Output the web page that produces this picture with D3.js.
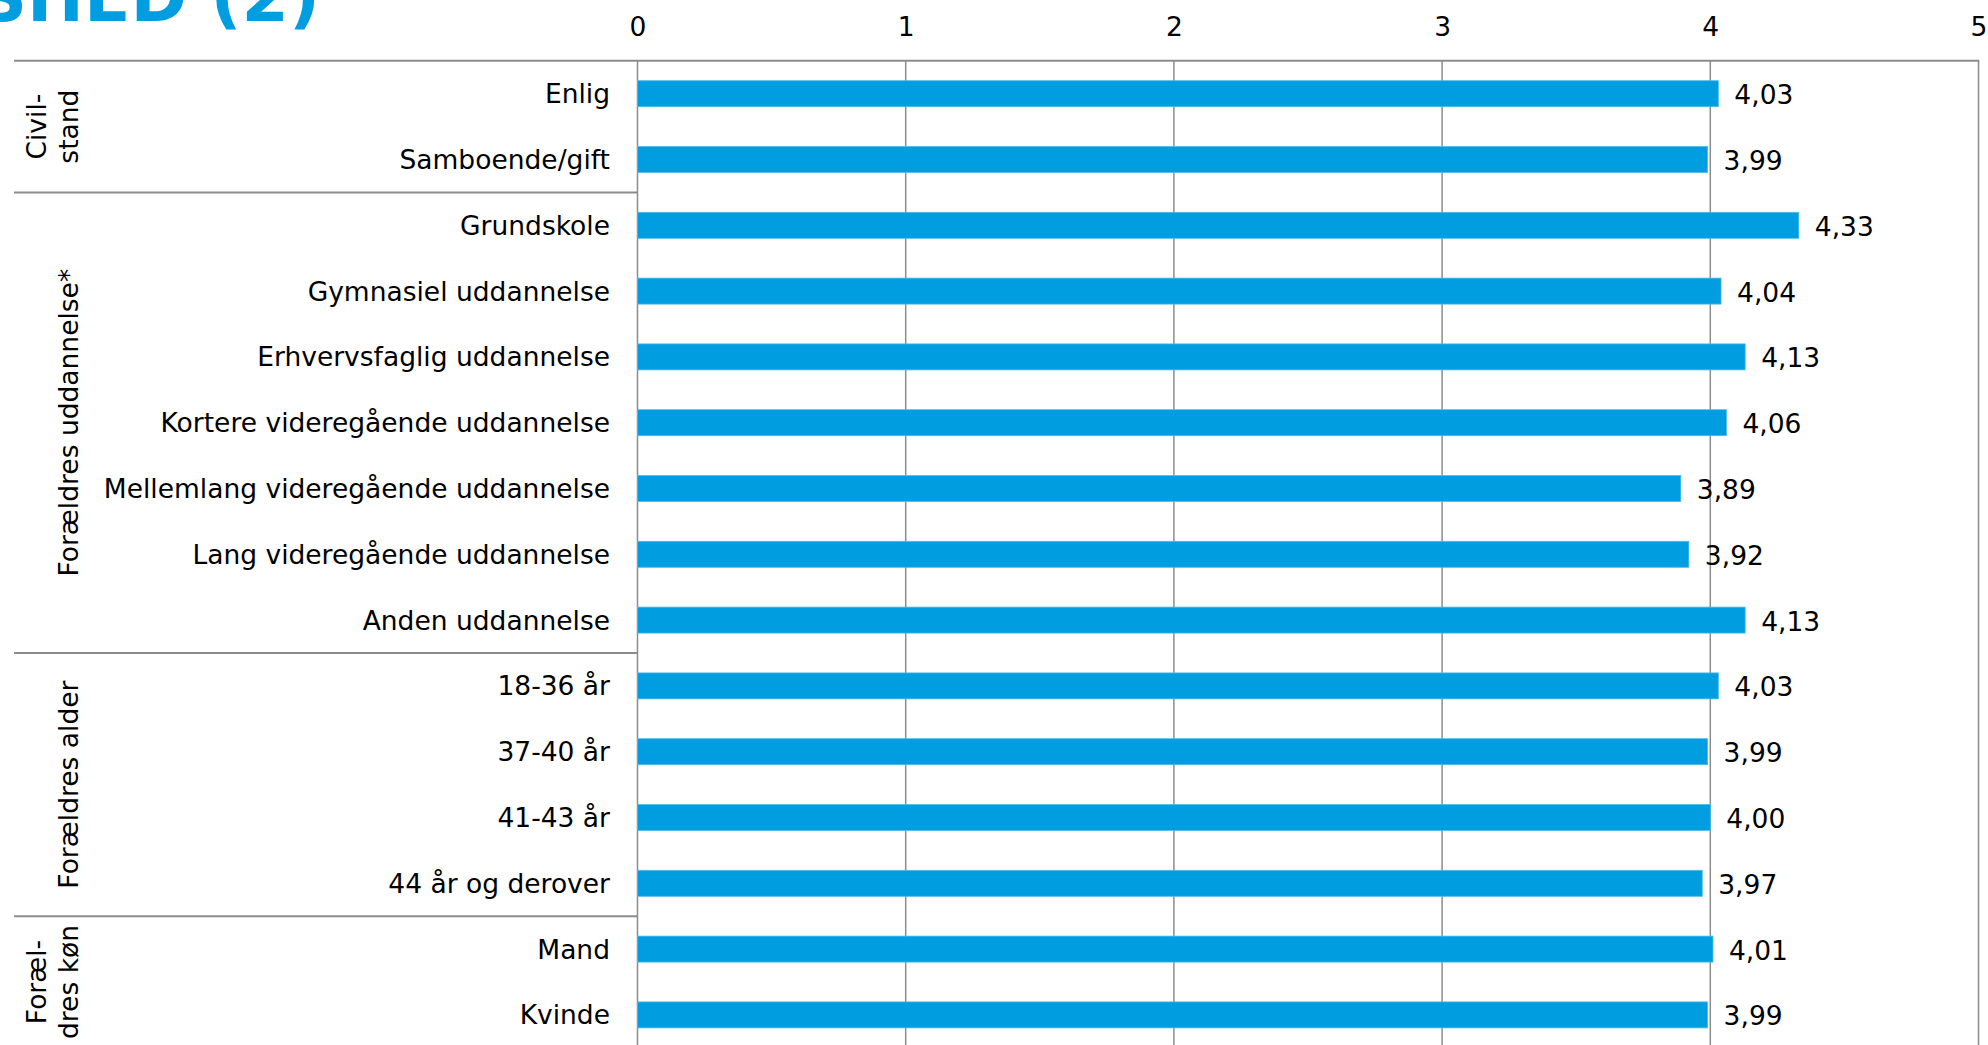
<!DOCTYPE html>
<html>
<head>
<meta charset="utf-8">
<script src="https://cdn.jsdelivr.net/npm/d3@7"></script>
<style>
  html, body { margin: 0; padding: 0; background: #fff; overflow: hidden; }
  svg { display: block; }
  text { font-family: "DejaVu Sans", Verdana, sans-serif; fill: #000; }
</style>
</head>
<body>
<svg id="chart" width="1988" height="1045"></svg>
<script>
// Mean scores by background group
const categories = [
  "Enlig", "Samboende/gift",
  "Grundskole", "Gymnasiel uddannelse", "Erhvervsfaglig uddannelse",
  "Kortere videregående uddannelse", "Mellemlang videregående uddannelse",
  "Lang videregående uddannelse", "Anden uddannelse",
  "18-36 år", "37-40 år", "41-43 år", "44 år og derover",
  "Mand", "Kvinde"
];
const values = [
  4.03, 3.99,
  4.33, 4.04, 4.13, 4.06, 3.89, 3.92, 4.13,
  4.03, 3.99, 4.00, 3.97,
  4.01, 3.99
];
// Groups: label lines and the first/last category of each
const groupLabels = [
  ["Civil-", "stand"],
  ["Forældres uddannelse*"],
  ["Forældres alder"],
  ["Foræl-", "dres køn"]
];
const groupFirst = ["Enlig", "Grundskole", "18-36 år", "Mand"];
const groupLast = ["Samboende/gift", "Anden uddannelse", "44 år og derover", "Kvinde"];
const tickValues = [0, 1, 2, 3, 4, 5];
const titleText = "SHED (2)";

const svg = d3.select("#chart");
const blue = "#009ee0";
const gridColor = "#8c8c8c";
const fontSize = 26.5;

const x = d3.scaleLinear().domain([0, 5]).range([637.5, 1978.5]);
const y = d3.scaleBand()
  .domain(categories)
  .range([60.8, 60.8 + 65.8 * categories.length])
  .paddingInner(0.605)
  .paddingOuter(0.3025);
const step = y.step();
const rowCenter = c => y(c) + y.bandwidth() / 2;
const plotTop = y.range()[0];
const plotBottom = y.range()[1];

// Title (slide heading, partly above the page)
svg.append("text")
  .attr("x", 320)
  .attr("y", 21)
  .attr("text-anchor", "end")
  .style("font-size", "68px")
  .style("font-weight", "bold")
  .style("fill", blue)
  .text(titleText);

// Tick labels via a top axis
const axis = d3.axisTop(x).tickValues(tickValues).tickSize(0).tickFormat(d3.format("d"));
const axisG = svg.append("g").attr("transform", `translate(0,${26 + fontSize * 0.36})`).call(axis);
axisG.select(".domain").remove();
axisG.selectAll("text")
  .attr("y", 0)
  .attr("dy", 0)
  .style("font-size", fontSize + "px")
  .style("font-family", '"DejaVu Sans", Verdana, sans-serif')
  .attr("fill", "#000");

// Vertical gridlines
svg.append("g").selectAll("line")
  .data(tickValues)
  .join("line")
  .attr("x1", d => x(d)).attr("x2", d => x(d))
  .attr("y1", plotTop).attr("y2", plotBottom)
  .attr("stroke", gridColor)
  .attr("stroke-width", 1.5);

// Top border across the table
svg.append("line")
  .attr("x1", 14).attr("x2", x(5) + 0.75)
  .attr("y1", plotTop).attr("y2", plotTop)
  .attr("stroke", gridColor)
  .attr("stroke-width", 2);

// Group separators in the label column
const separators = groupLast.slice(0, -1).map(c => y(c) + y.bandwidth() + (step - y.bandwidth()) / 2);
svg.append("g").selectAll("line")
  .data(separators)
  .join("line")
  .attr("x1", 14).attr("x2", x(0))
  .attr("y1", d => d).attr("y2", d => d)
  .attr("stroke", gridColor)
  .attr("stroke-width", 2);

// Bars
svg.append("g").selectAll("rect")
  .data(categories)
  .join("rect")
  .attr("x", x(0))
  .attr("y", c => y(c))
  .attr("width", (c, i) => x(values[i]) - x(0))
  .attr("height", y.bandwidth())
  .attr("fill", blue)
  .attr("stroke", "#4dbbea")
  .attr("stroke-width", 0.8);

// Value labels
const fmt = v => d3.format(".2f")(v).replace(".", ",");
svg.append("g").selectAll("text")
  .data(categories)
  .join("text")
  .attr("x", (c, i) => x(values[i]) + 16)
  .attr("y", c => rowCenter(c) + 1)
  .attr("dy", "0.36em")
  .style("font-size", fontSize + "px")
  .text((c, i) => fmt(values[i]));

// Category labels
svg.append("g").selectAll("text")
  .data(categories)
  .join("text")
  .attr("x", 610)
  .attr("y", c => rowCenter(c))
  .attr("dy", "0.36em")
  .attr("text-anchor", "end")
  .style("font-size", fontSize + "px")
  .text(c => c);

// Rotated group labels
groupLabels.forEach((lines, gi) => {
  const top = y(groupFirst[gi]) - (step - y.bandwidth()) / 2;
  const bottom = y(groupLast[gi]) + y.bandwidth() + (step - y.bandwidth()) / 2;
  const cy = (top + bottom) / 2;
  const baselines = lines.length === 2 ? [46, 78] : [78];
  lines.forEach((t, li) => {
    svg.append("text")
      .attr("transform", `translate(${baselines[li]},${cy}) rotate(-90)`)
      .attr("text-anchor", "middle")
      .style("font-size", fontSize + "px")
      .text(t);
  });
});
</script>
</body>
</html>
